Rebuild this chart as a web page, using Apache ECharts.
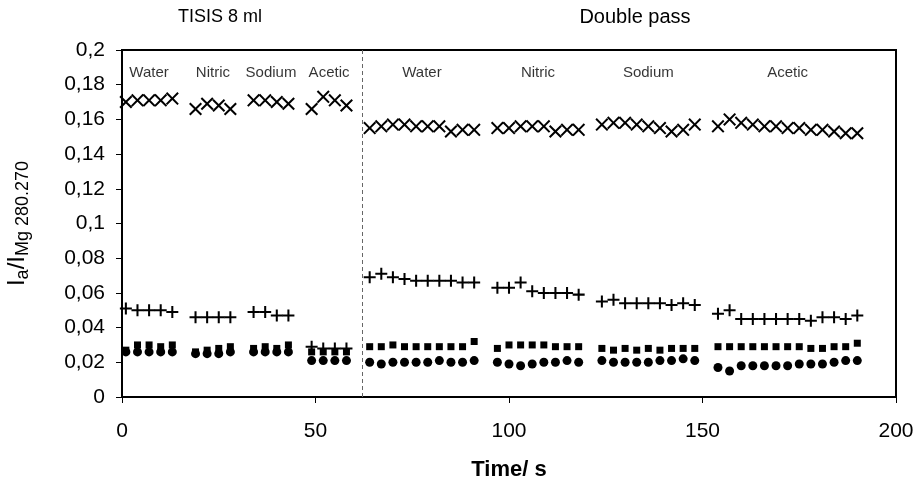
<!DOCTYPE html>
<html>
<head>
<meta charset="utf-8">
<title>TISIS 8 ml / Double pass</title>
<script src="https://cdn.jsdelivr.net/npm/echarts@6/dist/echarts.min.js"></script>
<style>
  html, body { margin: 0; padding: 0; background: #fff; }
  #chart { width: 918px; height: 486px; }
</style>
</head>
<body>
<div id="chart"></div>
<script>
// Measurement times (s), one line per solution block
const time = [
  1, 4, 7, 10, 13,                                  // TISIS – Water
  19, 22, 25, 28,                                   // TISIS – Nitric
  34, 37, 40, 43,                                   // TISIS – Sodium
  49, 52, 55, 58,                                   // TISIS – Acetic
  64, 67, 70, 73, 76, 79, 82, 85, 88, 91,           // Double pass – Water
  97, 100, 103, 106, 109, 112, 115, 118,            // Double pass – Nitric
  124, 127, 130, 133, 136, 139, 142, 145, 148,      // Double pass – Sodium
  154, 157, 160, 163, 166, 169, 172, 175, 178, 181, 184, 187, 190 // Double pass – Acetic
];

// Intensity ratios Ia / I(Mg 280.270) for the four analyte lines
const crossVals = [
  0.170, 0.171, 0.171, 0.171, 0.172,
  0.166, 0.169, 0.168, 0.166,
  0.171, 0.171, 0.170, 0.169,
  0.166, 0.173, 0.171, 0.168,
  0.155, 0.156, 0.157, 0.157, 0.156, 0.156, 0.156, 0.153, 0.154, 0.154,
  0.155, 0.155, 0.156, 0.156, 0.156, 0.153, 0.154, 0.154,
  0.157, 0.158, 0.158, 0.157, 0.156, 0.155, 0.153, 0.154, 0.157,
  0.156, 0.160, 0.158, 0.157, 0.156, 0.156, 0.155, 0.155, 0.154, 0.154, 0.153, 0.152, 0.152
];
const plusVals = [
  0.051, 0.050, 0.050, 0.050, 0.049,
  0.046, 0.046, 0.046, 0.046,
  0.049, 0.049, 0.047, 0.047,
  0.029, 0.028, 0.028, 0.028,
  0.069, 0.071, 0.069, 0.068, 0.067, 0.067, 0.067, 0.067, 0.066, 0.066,
  0.063, 0.063, 0.066, 0.061, 0.060, 0.060, 0.060, 0.059,
  0.055, 0.056, 0.054, 0.054, 0.054, 0.054, 0.053, 0.054, 0.053,
  0.048, 0.050, 0.045, 0.045, 0.045, 0.045, 0.045, 0.045, 0.044, 0.046, 0.046, 0.045, 0.047
];
const squareVals = [
  0.027, 0.030, 0.030, 0.029, 0.030,
  0.026, 0.027, 0.028, 0.029,
  0.028, 0.029, 0.028, 0.030,
  0.026, 0.026, 0.026, 0.026,
  0.029, 0.029, 0.030, 0.029, 0.029, 0.029, 0.029, 0.029, 0.029, 0.032,
  0.028, 0.030, 0.030, 0.030, 0.030, 0.029, 0.029, 0.029,
  0.028, 0.027, 0.028, 0.027, 0.028, 0.027, 0.028, 0.028, 0.028,
  0.029, 0.029, 0.029, 0.029, 0.029, 0.029, 0.029, 0.029, 0.028, 0.028, 0.029, 0.029, 0.031
];
const circleVals = [
  0.026, 0.026, 0.026, 0.026, 0.026,
  0.025, 0.025, 0.025, 0.026,
  0.026, 0.026, 0.026, 0.026,
  0.021, 0.021, 0.021, 0.021,
  0.020, 0.019, 0.020, 0.020, 0.020, 0.020, 0.021, 0.020, 0.020, 0.021,
  0.020, 0.019, 0.018, 0.019, 0.020, 0.020, 0.021, 0.020,
  0.021, 0.020, 0.020, 0.020, 0.020, 0.021, 0.021, 0.022, 0.021,
  0.017, 0.015, 0.018, 0.018, 0.018, 0.018, 0.018, 0.019, 0.019, 0.019, 0.020, 0.021, 0.021
];

// Solution blocks: name and how many readings each contains
const blockNames = ['Water', 'Nitric', 'Sodium', 'Acetic', 'Water', 'Nitric', 'Sodium', 'Acetic'];
const blockSizes = [5, 4, 4, 4, 10, 8, 9, 13];
const blockLabelLevel = 0.187;

// Instrument set-ups shown above the plot, and the switch-over time
const setupNames = ['TISIS 8 ml', 'Double pass'];
const setupSwitch = 62;

// Axis settings
const xMin = 0, xMax = 200, xStep = 50;
const yMin = 0, yMax = 0.2, yStep = 0.02;

const FONT = '"Liberation Sans", Arial, sans-serif';

function pairs(vals) {
  return vals.map((v, i) => [time[i], v]);
}

// Block label positions: centred over each block's readings
const blockLabels = [];
let start = 0;
blockSizes.forEach((n, b) => {
  const ts = time.slice(start, start + n);
  const mid = (ts[0] + ts[ts.length - 1]) / 2;
  blockLabels.push({ value: [mid, blockLabelLevel], name: blockNames[b] });
  start += n;
});

const crossPath = 'path://M-10,-7.8L-7.8,-10L0,-2.2L7.8,-10L10,-7.8L2.2,0L10,7.8L7.8,10L0,2.2L-7.8,10L-10,7.8L-2.2,0Z';
const plusPath = 'path://M-1.7,-10L1.7,-10L1.7,-1.7L10,-1.7L10,1.7L1.7,1.7L1.7,10L-1.7,10L-1.7,1.7L-10,1.7L-10,-1.7L-1.7,-1.7Z';

const chart = echarts.init(document.getElementById('chart'), null, { renderer: 'canvas' });

const gridLeft = 122, gridRight = 22, gridTop = 50, gridBottom = 89;

function fmtComma(v) {
  return String(+v.toFixed(3)).replace('.', ',');
}

const markStyle = { color: '#000', opacity: 1 };

const option = {
  animation: false,
  backgroundColor: '#fff',
  textStyle: { fontFamily: FONT, color: '#000' },
  grid: {
    left: gridLeft, right: gridRight, top: gridTop, bottom: gridBottom,
    containLabel: false, outerBoundsMode: 'none',
    show: true, borderColor: '#000', borderWidth: 2, backgroundColor: 'transparent'
  },
  xAxis: {
    type: 'value', min: xMin, max: xMax, interval: xStep,
    name: 'Time/ s', nameLocation: 'middle', nameGap: 62,
    nameTextStyle: { fontFamily: FONT, fontSize: 22, fontWeight: 'bold', color: '#000' },
    axisLine: { show: true, onZero: false, lineStyle: { color: '#000', width: 2 } },
    axisTick: { show: true, inside: false, length: 6, lineStyle: { color: '#000', width: 1 } },
    axisLabel: { fontFamily: FONT, fontSize: 21, color: '#000', margin: 24 },
    splitLine: { show: false }
  },
  yAxis: {
    type: 'value', min: yMin, max: yMax, interval: yStep,
    name: '{b|I}{s|a}{b|/I}{s|Mg 280.270}',
    nameLocation: 'middle', nameGap: 90, nameRotate: 90,
    nameTextStyle: {
      fontFamily: FONT, color: '#000',
      rich: {
        b: { fontFamily: FONT, fontSize: 24, color: '#000' },
        s: { fontFamily: FONT, fontSize: 18, color: '#000', padding: [12, 0, 0, 0] }
      }
    },
    axisLine: { show: true, onZero: false, lineStyle: { color: '#000', width: 2 } },
    axisTick: { show: true, inside: false, length: 6, lineStyle: { color: '#000', width: 1 } },
    axisLabel: { fontFamily: FONT, fontSize: 21, color: '#000', margin: 17, formatter: fmtComma },
    splitLine: { show: false }
  },
  title: [
    {
      text: setupNames[0], left: 215, top: 3, textAlign: 'center',
      textStyle: { fontFamily: FONT, fontSize: 18, fontWeight: 'normal', color: '#000' }
    },
    {
      text: setupNames[1], left: 630, top: 2, textAlign: 'center',
      textStyle: { fontFamily: FONT, fontSize: 20, fontWeight: 'normal', color: '#000' }
    }
  ],
  series: [
    {
      name: 'circle', type: 'scatter', data: pairs(circleVals),
      symbol: 'circle', symbolSize: 9,
      itemStyle: markStyle, z: 2,
      markLine: {
        silent: true, symbol: ['none', 'none'], label: { show: false },
        lineStyle: { type: [4, 3], color: '#666', width: 1 },
        data: [{ xAxis: setupSwitch }]
      }
    },
    {
      name: 'square', type: 'scatter', data: pairs(squareVals),
      symbol: 'rect', symbolSize: 7,
      itemStyle: markStyle, z: 3
    },
    {
      name: 'plus', type: 'scatter', data: pairs(plusVals),
      symbol: plusPath, symbolSize: 12,
      itemStyle: markStyle, z: 4
    },
    {
      name: 'cross', type: 'scatter', data: pairs(crossVals),
      symbol: crossPath, symbolSize: 13,
      itemStyle: markStyle, z: 5
    },
    {
      name: 'blocks', type: 'scatter', data: blockLabels,
      symbolSize: 0, silent: true,
      label: {
        show: true, position: 'inside', formatter: '{b}',
        fontFamily: FONT, fontSize: 15, color: '#000'
      }
    }
  ]
};

chart.setOption(option);
</script>
</body>
</html>
